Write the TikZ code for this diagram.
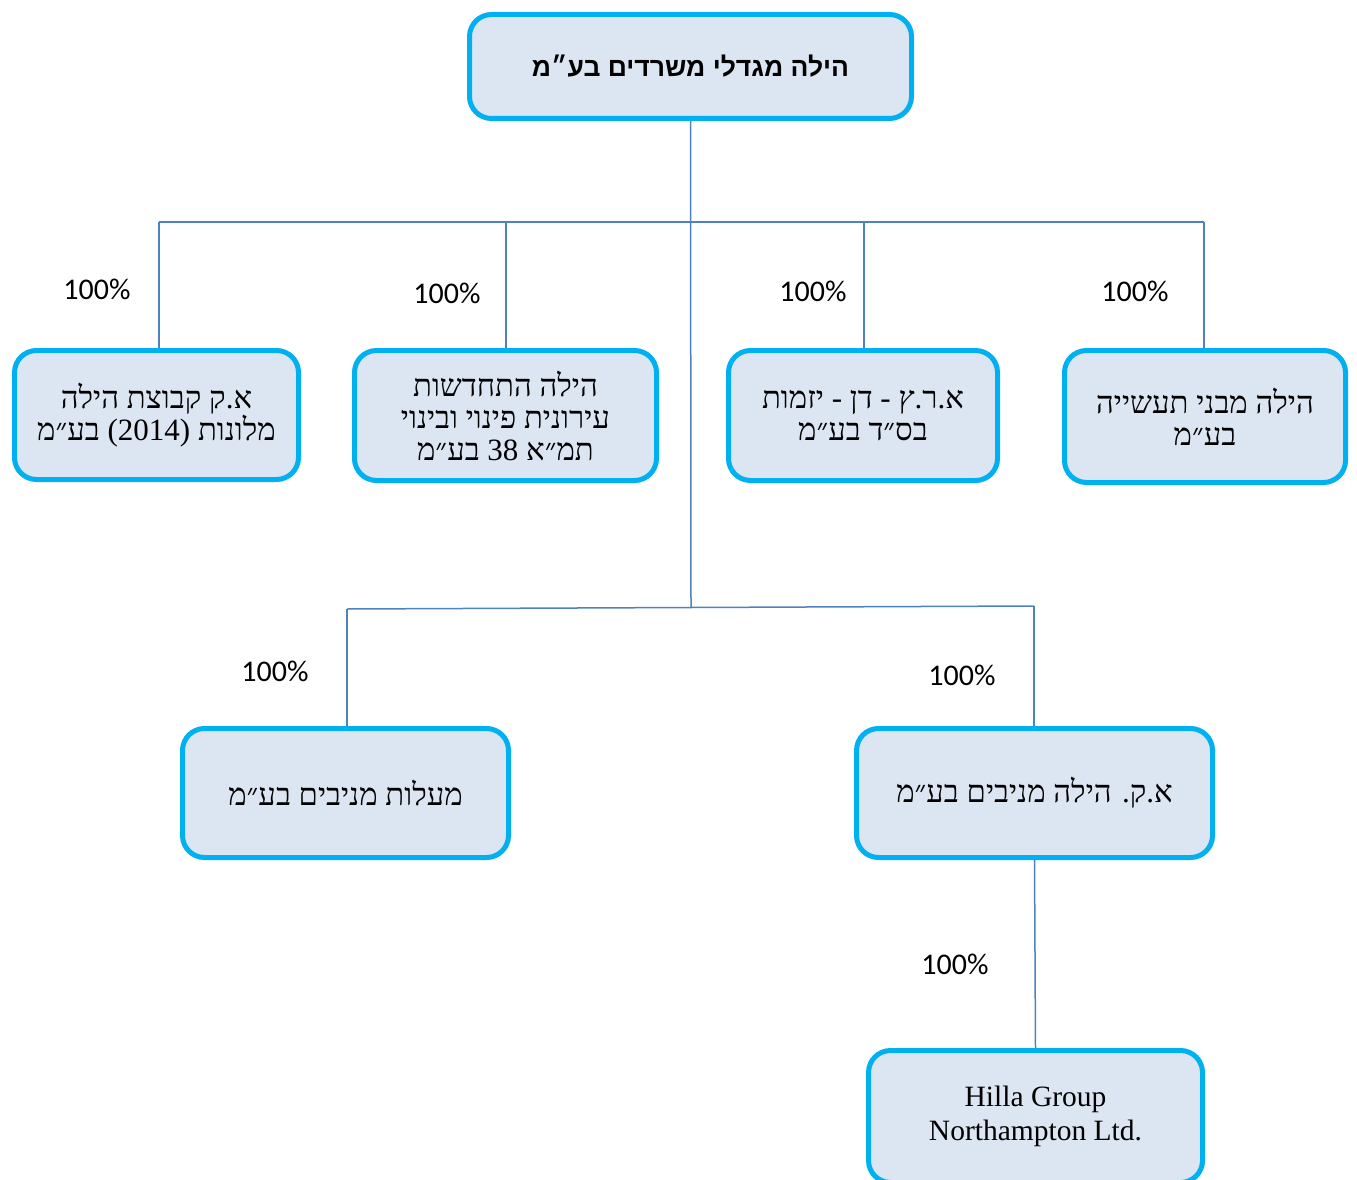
\documentclass[tikz,border=0pt]{standalone}
\usepackage{fontspec}
\TeXXeTstate=1
\setmainfont{Liberation Serif}
\newfontfamily\heb[Script=Hebrew]{Liberation Serif}
\newfontfamily\hebb[Script=Hebrew]{Liberation Sans}
\newfontfamily\pct{Carlito}
\usetikzlibrary{backgrounds}
\definecolor{boxfill}{HTML}{DCE6F2}
\definecolor{boxline}{HTML}{00B0F0}
\definecolor{connc}{HTML}{4F81BD}
\begin{document}
\begin{tikzpicture}[x=1pt,y=-1pt,
  box/.style={draw=boxline, fill=boxfill, line width=5pt, rounded corners=22pt,
    align=center, inner sep=0pt, font=\heb\fontsize{31}{32}\selectfont},
  lbl/.style={font=\pct\fontsize{30}{32}\selectfont, inner sep=0pt},
  link/.style={draw=connc, line width=1.5pt}]
\useasboundingbox (0,0) rectangle (1357,1180);

\node[box, minimum width=442pt, minimum height=104pt,
  font=\hebb\bfseries\fontsize{26.5}{32}\selectfont] (top) at (690.5,66.5)
  {\beginR הילה מגדלי משרדים בע״מ\endR};

\node[box, minimum width=284pt, minimum height=129pt] (A) at (156.5,415)
  {\beginR א.ק קבוצת הילה\endR\\\beginR מלונות \beginL(2014)\endL{} בע״מ\endR};
\node[box, minimum width=302pt, minimum height=130pt] (B) at (505.5,415.5)
  {\beginR הילה התחדשות\endR\\\beginR עירונית פינוי ובינוי\endR\\\beginR תמ״א \beginL 38\endL{} בע״מ\endR};
\node[box, minimum width=269pt, minimum height=130pt] (C) at (863,415.5)
  {\beginR א.ר.ץ - דן - יזמות\endR\\\beginR בס״ד בע״מ\endR};
\node[box, minimum width=281pt, minimum height=132pt] (D) at (1205,416.5)
  {\beginR הילה מבני תעשייה\endR\\\beginR בע״מ\endR};

\node[box, minimum width=326pt, minimum height=129pt] (E) at (345.5,793)
  {\beginR מעלות מניבים בע״מ\endR};
\node[box, minimum width=356pt, minimum height=129pt] (F) at (1034.5,793)
  {\beginR א.ק. הילה מניבים בע״מ\endR};

\node[box, minimum width=334pt, minimum height=132pt,
  font=\fontsize{29.5}{34}\selectfont] (G) at (1035.5,1116.5)
  {Hilla Group\\Northampton Ltd.};

\node[lbl] (pA) at (97,289) {100\%};
\node[lbl] (pB) at (447,293) {100\%};
\node[lbl] (pC) at (813,291) {100\%};
\node[lbl] (pD) at (1135,291) {100\%};
\node[lbl] (pE) at (275,671) {100\%};
\node[lbl] (pF) at (962,675) {100\%};
\node[lbl] (pG) at (955,964) {100\%};

\coordinate (busL) at (159,222);
\coordinate (busR) at (1204,222);
\coordinate (busB) at (506,222);
\coordinate (busC) at (864,222);
\coordinate (j2) at (691,607);
\coordinate (bus2L) at (347,609);
\coordinate (bus2R) at (1034,606);

\begin{scope}[on background layer]
\draw[link] (top.south) -- (j2);
\draw[link] (busL) -- (busR);
\draw[link] (busL) -- (busL |- A.north);
\draw[link] (busB) -- (busB |- B.north);
\draw[link] (busC) -- (busC |- C.north);
\draw[link] (busR) -- (busR |- D.north);
\draw[link] (bus2L) -- (bus2R);
\draw[link] (bus2L) -- (bus2L |- E.north);
\draw[link] (bus2R) -- (bus2R |- F.north);
\draw[link] (F.south) -- (G.north);
\end{scope}
\end{tikzpicture}
\end{document}
